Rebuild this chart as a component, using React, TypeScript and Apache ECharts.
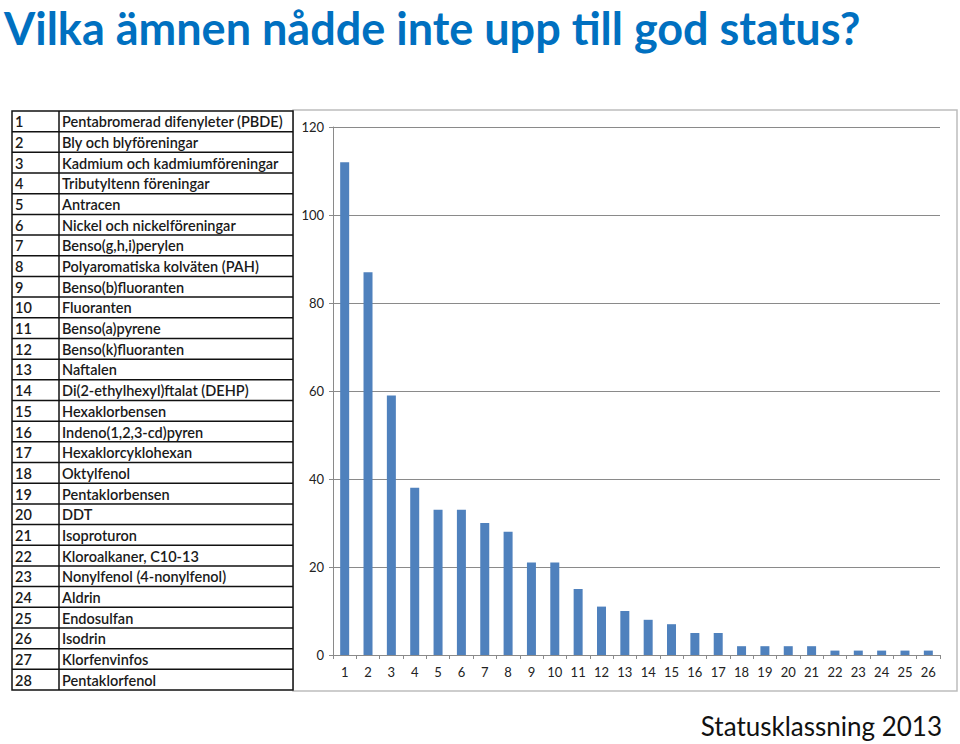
import React, { useEffect, useRef } from "react";
import * as echarts from "echarts";

const titleText = "Vilka ämnen nådde inte upp till god status?";
const footerText = "Statusklassning 2013";

const substanceNumbers = [
  "1", "2", "3", "4", "5", "6", "7", "8", "9", "10", "11", "12", "13", "14",
  "15", "16", "17", "18", "19", "20", "21", "22", "23", "24", "25", "26", "27", "28",
];
const substanceNames = [
  "Pentabromerad difenyleter (PBDE)",
  "Bly och blyföreningar",
  "Kadmium och kadmiumföreningar",
  "Tributyltenn föreningar",
  "Antracen",
  "Nickel och nickelföreningar",
  "Benso(g,h,i)perylen",
  "Polyaromatiska kolväten (PAH)",
  "Benso(b)fluoranten",
  "Fluoranten",
  "Benso(a)pyrene",
  "Benso(k)fluoranten",
  "Naftalen",
  "Di(2-ethylhexyl)ftalat (DEHP)",
  "Hexaklorbensen",
  "Indeno(1,2,3-cd)pyren",
  "Hexaklorcyklohexan",
  "Oktylfenol",
  "Pentaklorbensen",
  "DDT",
  "Isoproturon",
  "Kloroalkaner, C10-13",
  "Nonylfenol (4-nonylfenol)",
  "Aldrin",
  "Endosulfan",
  "Isodrin",
  "Klorfenvinfos",
  "Pentaklorfenol",
];

const categories = [
  "1", "2", "3", "4", "5", "6", "7", "8", "9", "10", "11", "12", "13",
  "14", "15", "16", "17", "18", "19", "20", "21", "22", "23", "24", "25", "26",
];
const counts = [112, 87, 59, 38, 33, 33, 30, 28, 21, 21, 15, 11, 10, 8, 7, 5, 5, 2, 2, 2, 2, 1, 1, 1, 1, 1];

const yMin = 0;
const yMax = 120;
const yInterval = 20;

export default function App() {
  const ref = useRef<HTMLDivElement>(null);

  useEffect(() => {
    document.body.style.margin = "0";
    const chart = echarts.init(ref.current!, null, { renderer: "svg" });

    const tableLeft = 12;
    const tableDiv = 59;
    const tableRight = 293;
    const tableTop = 111;
    const tableBottom = 690;
    const rowH = (tableBottom - tableTop) / substanceNames.length;
    const font = "Lato, Calibri, 'Noto Sans', sans-serif";

    const tableEls: any[] = [];
    tableEls.push({
      type: "rect",
      shape: { x: tableLeft, y: tableTop, width: tableRight - tableLeft, height: tableBottom - tableTop },
      style: { fill: "#fff", stroke: "#111", lineWidth: 1.5 },
      z: 5,
    });
    tableEls.push({
      type: "line",
      shape: { x1: tableDiv, y1: tableTop, x2: tableDiv, y2: tableBottom },
      style: { stroke: "#111", lineWidth: 1.5 },
      z: 6,
    });
    for (let i = 1; i < substanceNames.length; i++) {
      const y = tableTop + i * rowH;
      tableEls.push({
        type: "line",
        shape: { x1: tableLeft, y1: y, x2: tableRight, y2: y },
        style: { stroke: "#111", lineWidth: 1.5 },
        z: 6,
      });
    }
    substanceNames.forEach((name, i) => {
      const cy = tableTop + (i + 0.5) * rowH + 0.5;
      tableEls.push({
        type: "text",
        x: tableLeft + 3,
        y: cy,
        style: {
          text: substanceNumbers[i],
          font: `600 14.5px ${font}`,
          fill: "#1a1a1a",
          textVerticalAlign: "middle",
          verticalAlign: "middle",
        },
        z: 7,
      });
      tableEls.push({
        type: "text",
        x: tableDiv + 3,
        y: cy,
        style: {
          text: name,
          font: `600 14.5px ${font}`,
          fill: "#1a1a1a",
          textVerticalAlign: "middle",
          verticalAlign: "middle",
        },
        z: 7,
      });
    });

    chart.setOption({
      animation: false,
      backgroundColor: "#fff",
      graphic: [
        {
          type: "text",
          x: 4,
          y: 5,
          style: {
            text: titleText,
            font: `bold 45px ${font}`,
            fill: "#0070c0",
          },
        },
        {
          type: "text",
          x: 942,
          y: 713,
          style: {
            text: footerText,
            font: `26px ${font}`,
            fill: "#111",
            align: "right",
            textAlign: "right",
          },
        },
        {
          type: "rect",
          shape: { x: 293, y: 110, width: 664, height: 581 },
          style: { fill: "#fff", stroke: "#bdbdbd", lineWidth: 1.5 },
          z: -10,
        },
        ...tableEls,
      ],
      grid: { left: 333, top: 127, width: 607, height: 528, containLabel: false },
      xAxis: {
        type: "category",
        data: categories,
        axisLine: { show: true, lineStyle: { color: "#8a8a8a", width: 1 } },
        axisTick: { show: true, length: 4, lineStyle: { color: "#8a8a8a" } },
        axisLabel: { color: "#222", fontSize: 13, margin: 10, fontFamily: font, interval: 0 },
      },
      yAxis: {
        type: "value",
        min: yMin,
        max: yMax,
        interval: yInterval,
        axisLine: { show: true, lineStyle: { color: "#8a8a8a", width: 1 } },
        axisTick: { show: true, length: 4, lineStyle: { color: "#8a8a8a" } },
        axisLabel: { color: "#222", fontSize: 13, margin: 9, fontFamily: font },
        splitLine: { show: true, lineStyle: { color: "#8a8a8a", width: 1 } },
      },
      series: [
        {
          type: "bar",
          data: counts,
          barWidth: 9,
          itemStyle: { color: "#4f81bd" },
        },
      ],
    });

    return () => chart.dispose();
  }, []);

  return (
    <div
      ref={ref}
      style={{ position: "absolute", left: 0, top: 0, width: 960, height: 744 }}
    />
  );
}
